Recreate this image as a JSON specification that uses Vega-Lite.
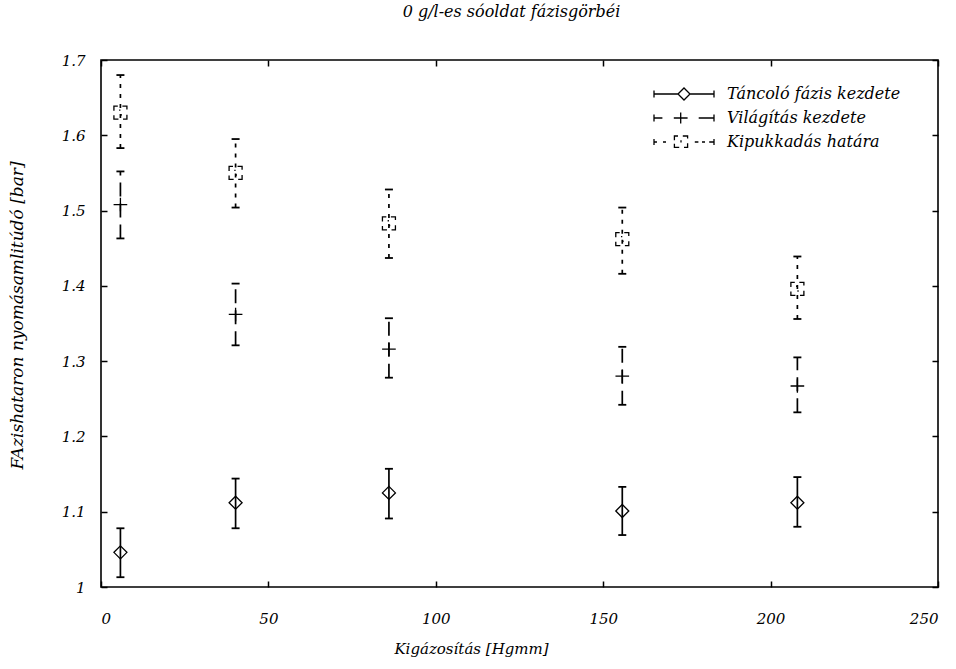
{
  "$schema": "https://vega.github.io/schema/vega-lite/v6.json",
  "width": 837,
  "height": 527,
  "autosize": {"type": "none"},
  "padding": {"left": 101, "top": 60, "right": 18, "bottom": 82},
  "background": "white",
  "title": {
    "text": "0 g/l-es sóoldat fázisgörbéi",
    "font": "DejaVu Serif",
    "fontStyle": "italic",
    "fontWeight": "normal",
    "fontSize": 16,
    "color": "black",
    "anchor": "middle",
    "dx": -8,
    "offset": 33
  },
  "config": {
    "view": {"stroke": "black", "strokeWidth": 1.6},
    "axis": {
      "labelFont": "DejaVu Serif",
      "labelFontStyle": "italic",
      "labelFontSize": 15,
      "labelColor": "black",
      "titleFont": "DejaVu Serif",
      "titleFontStyle": "italic",
      "titleFontWeight": "normal",
      "titleFontSize": 15,
      "titleColor": "black",
      "tickColor": "black",
      "tickWidth": 1.5,
      "tickSize": -6,
      "domain": false,
      "grid": false
    },
    "legend": {
      "labelFont": "DejaVu Serif",
      "labelFontStyle": "italic",
      "labelFontSize": 16,
      "labelColor": "black",
      "labelLimit": 400
    }
  },
  "data": {
    "values": [
      {"series": "Táncoló fázis kezdete", "x": 5.8, "y": 1.046, "lo": 1.013, "hi": 1.078},
      {"series": "Táncoló fázis kezdete", "x": 40.2, "y": 1.112, "lo": 1.078, "hi": 1.144},
      {"series": "Táncoló fázis kezdete", "x": 86, "y": 1.125, "lo": 1.091, "hi": 1.157},
      {"series": "Táncoló fázis kezdete", "x": 155.7, "y": 1.101, "lo": 1.069, "hi": 1.133},
      {"series": "Táncoló fázis kezdete", "x": 208, "y": 1.112, "lo": 1.080, "hi": 1.146},
      {"series": "Világítás kezdete", "x": 5.8, "y": 1.508, "lo": 1.463, "hi": 1.552},
      {"series": "Világítás kezdete", "x": 40.2, "y": 1.362, "lo": 1.321, "hi": 1.403},
      {"series": "Világítás kezdete", "x": 86, "y": 1.316, "lo": 1.278, "hi": 1.357},
      {"series": "Világítás kezdete", "x": 155.7, "y": 1.280, "lo": 1.242, "hi": 1.319},
      {"series": "Világítás kezdete", "x": 208, "y": 1.267, "lo": 1.232, "hi": 1.305},
      {"series": "Kipukkadás határa", "x": 5.8, "y": 1.630, "lo": 1.583, "hi": 1.680},
      {"series": "Kipukkadás határa", "x": 40.2, "y": 1.550, "lo": 1.504, "hi": 1.595},
      {"series": "Kipukkadás határa", "x": 86, "y": 1.483, "lo": 1.437, "hi": 1.528},
      {"series": "Kipukkadás határa", "x": 155.7, "y": 1.462, "lo": 1.416, "hi": 1.504},
      {"series": "Kipukkadás határa", "x": 208, "y": 1.396, "lo": 1.356, "hi": 1.439}
    ]
  },
  "resolve": {
    "axis": {"x": "independent", "y": "independent"},
    "scale": {"shape": "independent", "strokeDash": "independent"},
    "legend": {"shape": "independent", "strokeDash": "independent"}
  },
  "layer": [
    {
      "mark": {"type": "rule", "color": "black", "strokeWidth": 1.7},
      "encoding": {
        "x": {
          "field": "x", "type": "quantitative",
          "scale": {"domain": [0, 250], "nice": false, "zero": false},
          "axis": {
            "orient": "bottom",
            "values": [0, 50, 100, 150, 200, 250],
            "labelPadding": 30,
            "title": "Kigázosítás [Hgmm]",
            "titleX": 370,
            "titleY": 66,
            "titleBaseline": "alphabetic",
            "titleAnchor": "middle"
          }
        },
        "y": {
          "field": "lo", "type": "quantitative",
          "scale": {"domain": [1, 1.7], "nice": false, "zero": false},
          "axis": {
            "orient": "left",
            "values": [1, 1.1, 1.2, 1.3, 1.4, 1.5, 1.6, 1.7],
            "format": ".2~f",
            "labelPadding": 22,
            "title": "FAzishataron nyomásamlitúdó [bar]",
            "titleFontSize": 17,
            "titleX": -84,
            "titleY": 255,
            "titleAnchor": "middle",
            "titleBaseline": "middle"
          }
        },
        "y2": {"field": "hi"},
        "strokeDash": {
          "field": "series", "type": "nominal",
          "scale": {
            "domain": ["Táncoló fázis kezdete", "Világítás kezdete", "Kipukkadás határa"],
            "range": [[1, 0], [14, 7], [4, 6]]
          },
          "legend": null
        }
      }
    },
    {
      "mark": {"type": "point", "shape": "M-1,0H1", "size": 64, "filled": false, "color": "black", "strokeWidth": 1.8, "opacity": 1},
      "encoding": {
        "x": {
          "field": "x", "type": "quantitative",
          "scale": {"domain": [0, 250], "nice": false, "zero": false},
          "axis": {"orient": "top", "values": [0, 50, 100, 150, 200, 250], "labels": false, "title": null}
        },
        "y": {
          "field": "lo", "type": "quantitative",
          "scale": {"domain": [1, 1.7], "nice": false, "zero": false},
          "axis": {"orient": "right", "values": [1, 1.1, 1.2, 1.3, 1.4, 1.5, 1.6, 1.7], "labels": false, "title": null}
        }
      }
    },
    {
      "mark": {"type": "point", "shape": "M-1,0H1", "size": 64, "filled": false, "color": "black", "strokeWidth": 1.8, "opacity": 1},
      "encoding": {
        "x": {"field": "x", "type": "quantitative", "scale": {"domain": [0, 250], "nice": false, "zero": false}, "axis": null},
        "y": {"field": "hi", "type": "quantitative", "scale": {"domain": [1, 1.7], "nice": false, "zero": false}, "axis": null}
      }
    },
    {
      "mark": {"type": "point", "filled": false, "color": "black", "strokeWidth": 1.3, "size": 169, "opacity": 1},
      "encoding": {
        "x": {"field": "x", "type": "quantitative", "scale": {"domain": [0, 250], "nice": false, "zero": false}, "axis": null},
        "y": {"field": "y", "type": "quantitative", "scale": {"domain": [1, 1.7], "nice": false, "zero": false}, "axis": null},
        "shape": {
          "field": "series", "type": "nominal",
          "scale": {
            "domain": ["Táncoló fázis kezdete", "Világítás kezdete", "Kipukkadás határa"],
            "range": [
              "M0,-1L1,0L0,1L-1,0Z",
              "M-1.05,0H1.05M0,-1.05V1.05",
              "M-1,-0.3V-1H-0.4M0.3,-1H1V-0.5M1,0.3V1H0.4M-0.3,1H-1V0.4M-0.1,-0.5V-0.3M0.1,0.2V0.45"
            ]
          },
          "legend": null
        }
      }
    },
    {
      "transform": [{"filter": "false"}],
      "mark": {"type": "point", "filled": false, "color": "black", "strokeWidth": 1.3, "size": 144, "opacity": 1},
      "encoding": {
        "shape": {
          "field": "series", "type": "nominal",
          "scale": {
            "domain": ["Táncoló fázis kezdete", "Világítás kezdete", "Kipukkadás határa"],
            "range": [
              "M-5,-0.6V0.6M-5,0H-1M1,0H5M5,-0.6V0.6M-1,0L0,-1L1,0L0,1Z",
              "M-5,-0.6V0.6M-5,0H-3.6M-1.7,0H0.6M-0.55,-0.9V0.9M2.45,0H5M5,-0.6V0.6",
              "M-5,-0.5V0.5M-5,0H-4.5M-3.5,0H-3M-1.6,-0.3V-1H-1M-0.2,-1H0.6V-0.6M0.6,0.2V0.9H0M-0.8,0.9H-1.6V0.3M-0.5,-0.3V0.1M1.8,0H2.4M3,0H3.5M4.2,0H5M5,-0.5V0.5"
            ]
          },
          "legend": {
            "title": null,
            "orient": "none",
            "legendX": 549,
            "legendY": 26,
            "padding": 0,
            "symbolOffset": 26,
            "labelOffset": 35,
            "rowPadding": 7,
            "symbolSize": 144,
            "labelLimit": 400,
            "symbolStrokeColor": "black",
            "symbolStrokeWidth": 1.3,
            "symbolFillColor": "transparent"
          }
        }
      }
    }
  ]
}
